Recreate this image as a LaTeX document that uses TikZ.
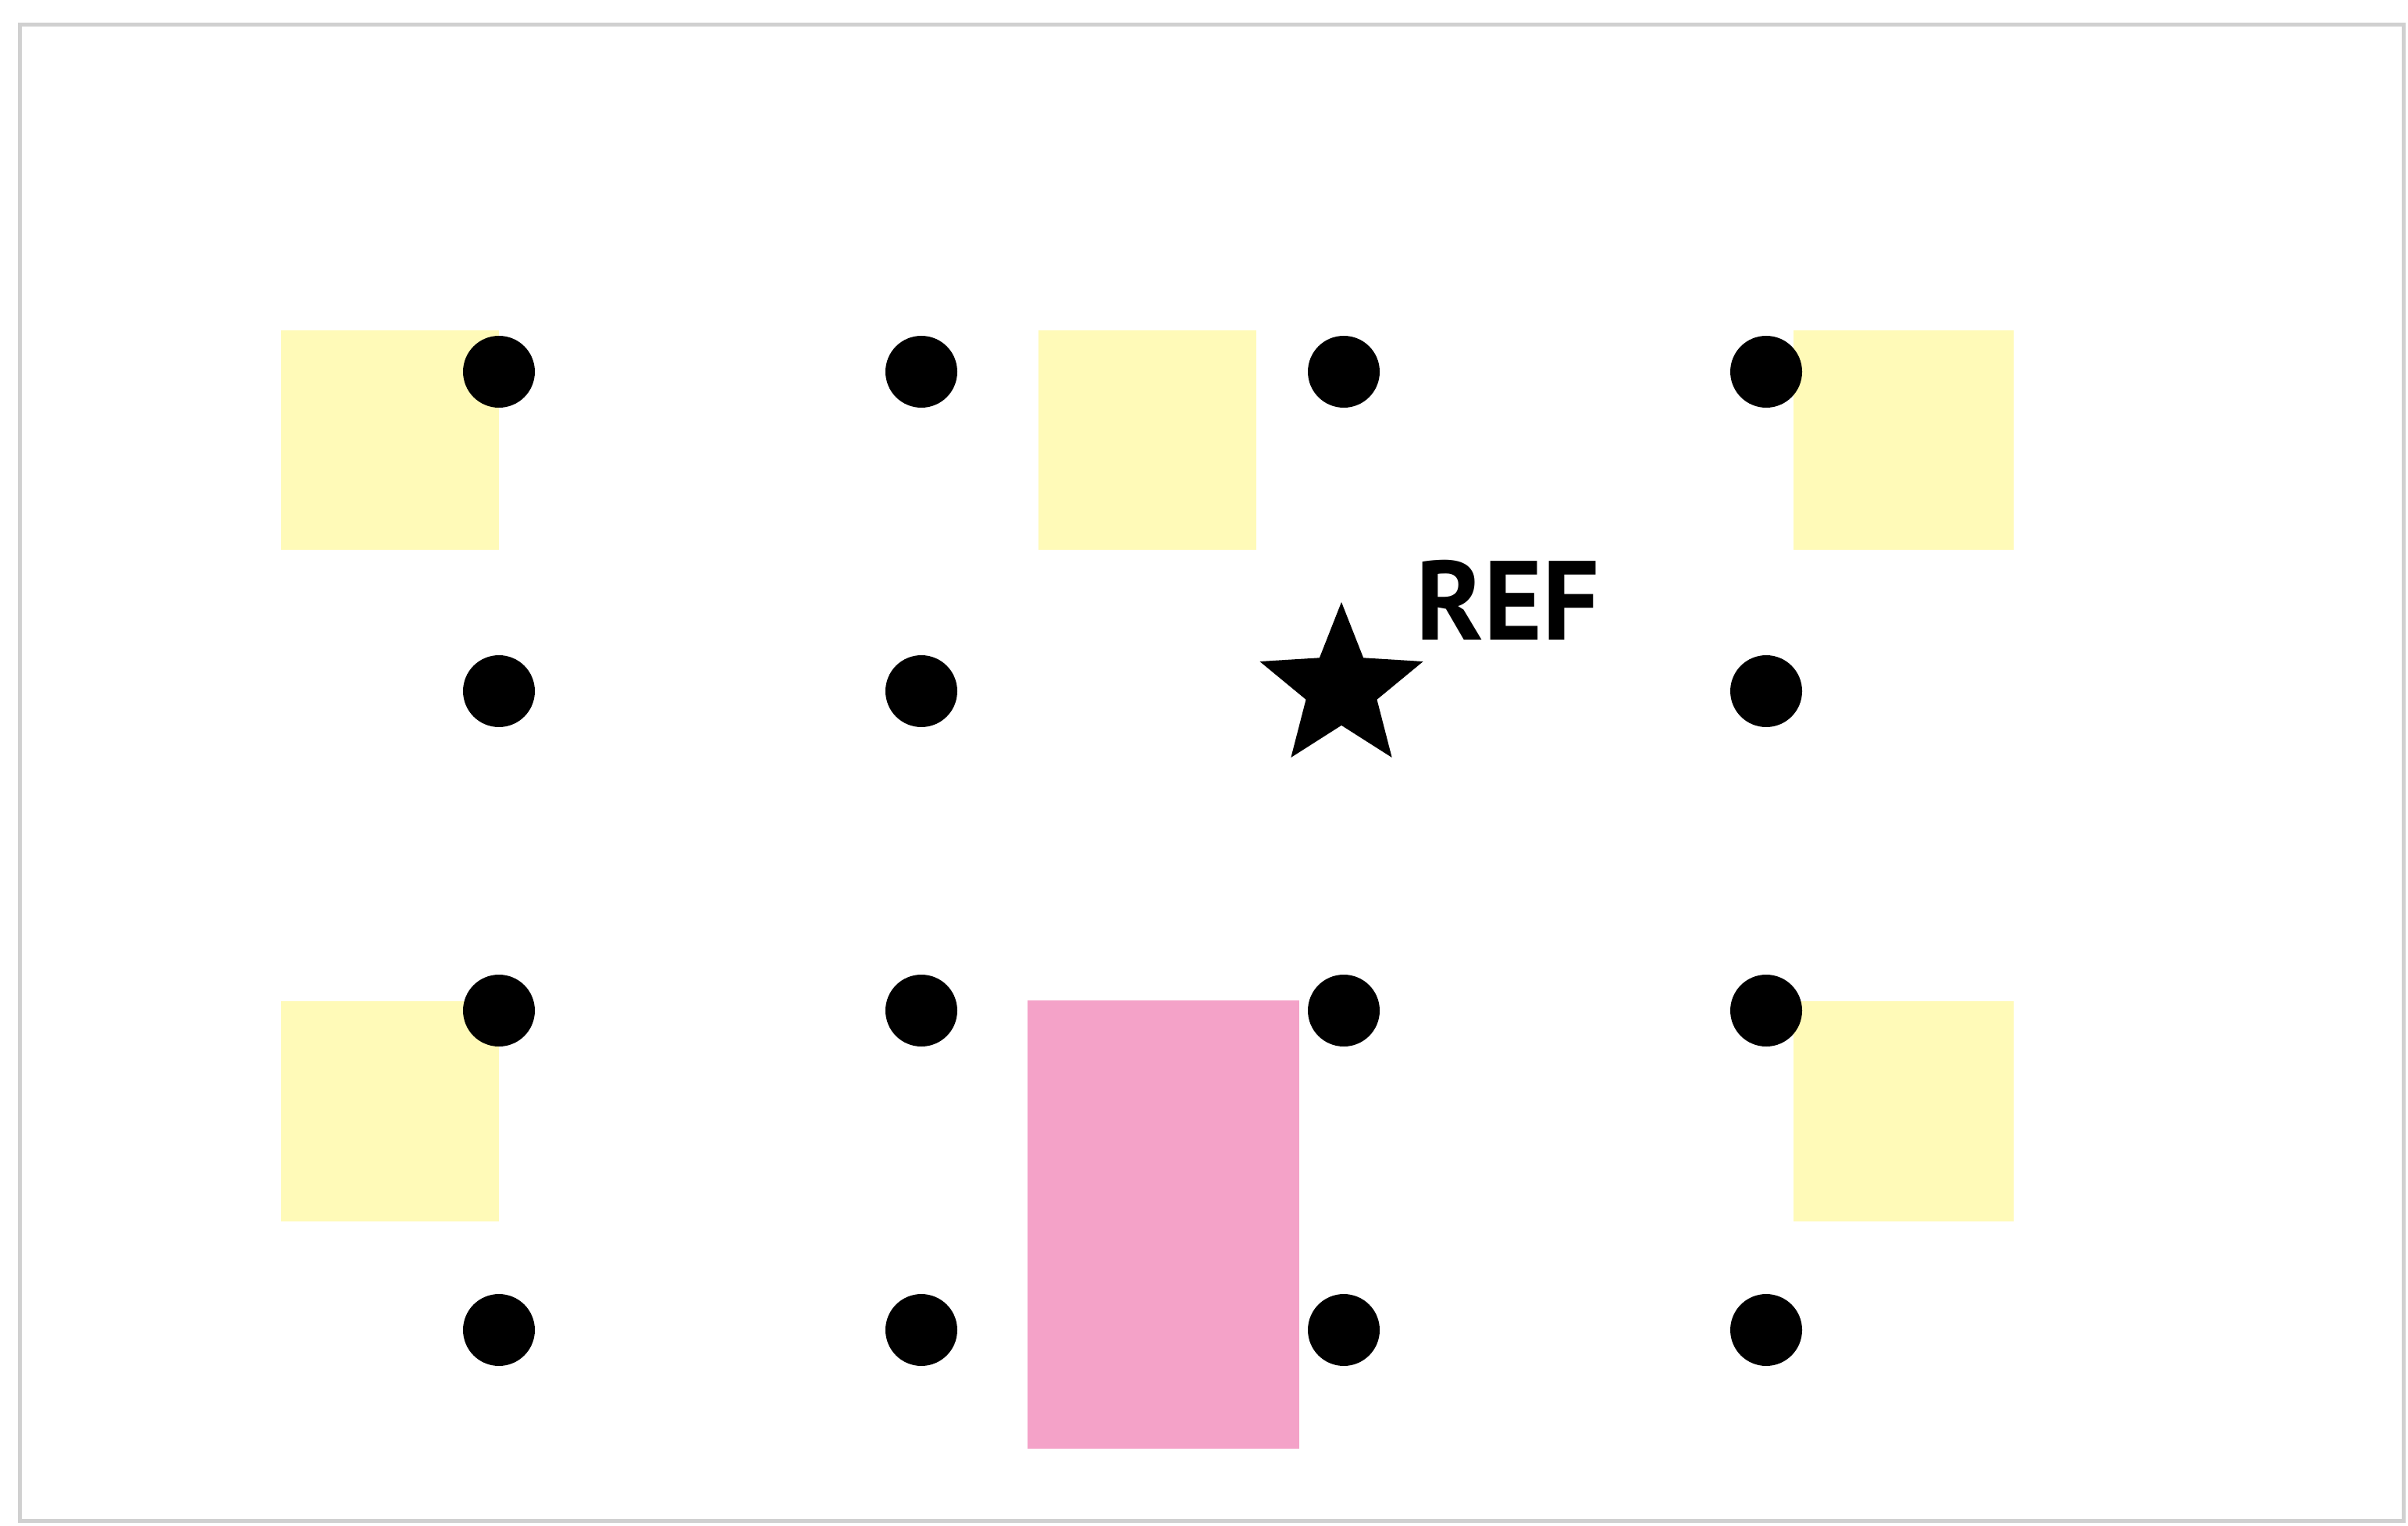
\documentclass[tikz,border=0pt]{standalone}
\usepackage{fontspec}
\setsansfont{PT Sans}
\usetikzlibrary{shapes.geometric}

\definecolor{padyellow}{HTML}{FFFAB8}
\definecolor{padpink}{HTML}{F4A2C8}
\definecolor{framegray}{HTML}{D0D0D0}

\tikzset{
  pin/.style={circle,fill=black,inner sep=0pt,minimum size=0.92cm},
  refstar/.style={star,star points=5,star point ratio=2.3,fill=black,inner sep=0pt,minimum size=2.2cm},
  reflabel/.style={font=\sffamily\bfseries\fontsize{41}{41}\selectfont,inner sep=0pt}
}

\begin{document}
\begin{tikzpicture}[x=1cm,y=1cm]
  \useasboundingbox (0,0) rectangle (30.84,19.53);
  \fill[white] (0,0) rectangle (30.84,19.53);
  \draw[framegray,line width=0.05cm] (0.25,0.06) rectangle (30.78,19.21);
  % yellow pads
  \fill[padyellow] (3.60,12.49) rectangle (6.39,15.30);
  \fill[padyellow] (13.30,12.49) rectangle (16.09,15.30);
  \fill[padyellow] (22.97,12.49) rectangle (25.79,15.30);
  \fill[padyellow] (3.60,3.89) rectangle (6.39,6.71);
  \fill[padyellow] (22.97,3.89) rectangle (25.79,6.71);
  % pink block
  \fill[padpink] (13.16,0.98) rectangle (16.64,6.72);
  % pins, top row
  \node[pin] (p11) at (6.39,14.77) {};
  \node[pin] (p12) at (11.80,14.77) {};
  \node[pin] (p13) at (17.21,14.77) {};
  \node[pin] (p14) at (22.62,14.77) {};
  % second row
  \node[pin] (p21) at (6.39,10.68) {};
  \node[pin] (p22) at (11.80,10.68) {};
  \node[pin] (p24) at (22.62,10.68) {};
  % third row
  \node[pin] (p31) at (6.39,6.59) {};
  \node[pin] (p32) at (11.80,6.59) {};
  \node[pin] (p33) at (17.21,6.59) {};
  \node[pin] (p34) at (22.62,6.59) {};
  % bottom row
  \node[pin] (p41) at (6.39,2.50) {};
  \node[pin] (p42) at (11.80,2.50) {};
  \node[pin] (p43) at (17.21,2.50) {};
  \node[pin] (p44) at (22.62,2.50) {};
  % reference mark
  \node[refstar] (ref) at (17.18,10.72) {};
  \node[reflabel] (reftext) at (19.31,11.85) {REF};
\end{tikzpicture}
\end{document}
